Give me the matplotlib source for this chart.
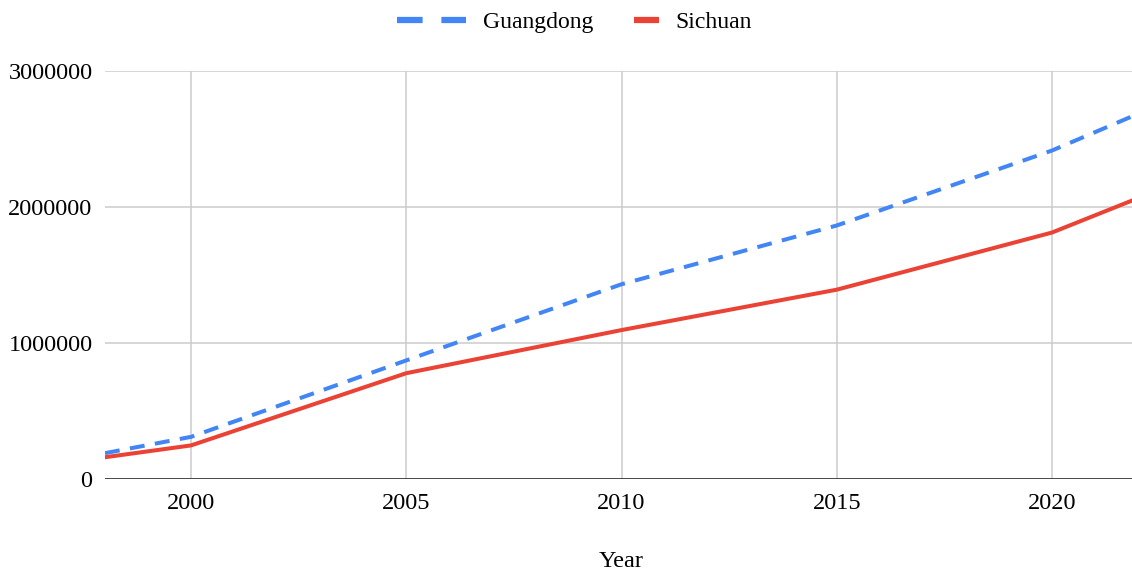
import matplotlib
matplotlib.use("Agg")
import matplotlib.pyplot as plt
from matplotlib.lines import Line2D
from matplotlib.ticker import FuncFormatter

years = [1998, 2000, 2005, 2010, 2015, 2020, 2022]
guangdong = [190000, 310000, 872000, 1432000, 1864000, 2415000, 2685000]
sichuan = [160000, 247000, 778000, 1095000, 1392000, 1812000, 2065000]
series_names = ["Guangdong", "Sichuan"]
x_ticks = [2000, 2005, 2010, 2015, 2020]
y_ticks = [0, 1000000, 2000000, 3000000]
x_label = "Year"

BLUE = "#4285F4"
RED = "#EA4335"

plt.rcParams["font.family"] = ["Liberation Serif", "DejaVu Serif"]
FS = 17.5
plt.rcParams["font.size"] = FS

W, H = 1132, 575
fig = plt.figure(figsize=(W / 100, H / 100), dpi=100)
left, right, top, bottom = 105, 1138, 71, 479
ax = fig.add_axes([left / W, 1 - bottom / H, (right - left) / W, (bottom - top) / H])

ax.plot(years, guangdong, color=BLUE, lw=2.9, dashes=(3.7, 2.6), solid_capstyle="butt",
        dash_capstyle="butt", zorder=3, clip_on=True)
ax.plot(years, sichuan, color=RED, lw=2.9, zorder=3, solid_joinstyle="round")

ax.set_xlim(1998, 2022)
ax.set_ylim(0, 3000000)
ax.set_xticks(x_ticks)
ax.set_yticks(y_ticks)
ax.yaxis.set_major_formatter(FuncFormatter(lambda v, p: f"{int(v)}"))
ax.grid(True, color="#cccccc", lw=1.1, zorder=0)
ax.axhline(0, color="#3c3c3c", lw=2.0, zorder=2)
for s in ax.spines.values():
    s.set_visible(False)
ax.tick_params(axis="both", length=0, labelsize=FS, colors="#000000")
ax.tick_params(axis="y", pad=9)
ax.tick_params(axis="x", pad=10)
ax.set_xlabel(x_label, fontsize=FS, labelpad=27)

# legend: two groups with different handle lengths
g_handle = Line2D([], [], color=BLUE, lw=4.5, dashes=(4.1, 3.0), dash_capstyle="butt")
s_handle = Line2D([], [], color=RED, lw=4.5, solid_capstyle="butt")
lfs = 17
leg1 = fig.legend(handles=[g_handle], labels=[series_names[0]], loc="center",
                  bbox_to_anchor=(495 / W, 1 - 22 / H), frameon=False, fontsize=lfs,
                  handlelength=2.96, handletextpad=0.7, borderpad=0, borderaxespad=0)
leg2 = fig.legend(handles=[s_handle], labels=[series_names[1]], loc="center",
                  bbox_to_anchor=(692.5 / W, 1 - 22 / H), frameon=False, fontsize=lfs,
                  handlelength=1.06, handletextpad=0.7, borderpad=0, borderaxespad=0)

fig.savefig("out.png", dpi=100)
